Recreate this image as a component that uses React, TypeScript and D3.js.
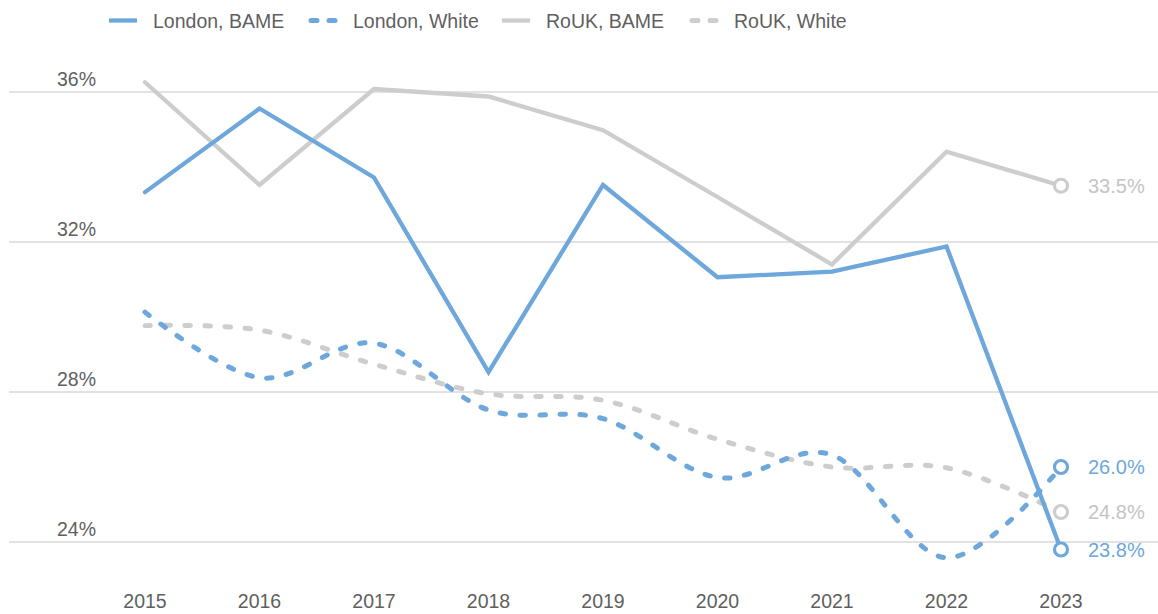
import * as d3 from "d3";

const years = ["2015", "2016", "2017", "2018", "2019", "2020", "2021", "2022", "2023"];
const londonBame = [33.33, 35.56, 33.72, 28.53, 33.52, 31.06, 31.21, 31.88, 23.8];
const londonWhite = [30.13, 28.38, 29.3, 27.52, 27.29, 25.72, 26.32, 23.58, 26.0];
const roukBame = [36.26, 33.52, 36.08, 35.88, 34.98, 33.2, 31.4, 34.41, 33.5];
const roukWhite = [29.77, 29.65, 28.74, 27.95, 27.78, 26.74, 26.0, 25.98, 24.8];
const yTicks = [24, 28, 32, 36];

const BLUE = "#6ea7db";
const GREY = "#cdcdcd";
const TEXT = "#5f5f5f";
const FONT = "'Liberation Sans', Arial, sans-serif";
const DASH = "5.5 14.5";

const width = 1158;
const height = 614;

const series = [
  { name: "London, BAME", values: londonBame, color: BLUE, dashed: false, labelColor: BLUE },
  { name: "London, White", values: londonWhite, color: BLUE, dashed: true, labelColor: BLUE },
  { name: "RoUK, BAME", values: roukBame, color: GREY, dashed: false, labelColor: "#c4c4c4" },
  { name: "RoUK, White", values: roukWhite, color: GREY, dashed: true, labelColor: "#c4c4c4" },
];

// legend item x positions (sample start)
const legendX = [109, 309, 502, 690];

export default function App() {
  const x = d3.scalePoint<string>().domain(years).range([145, 1061]);
  const y = d3.scaleLinear().domain([24, 36]).range([542, 92]);

  const straight = d3
    .line<number>()
    .x((_, i) => x(years[i]) ?? 0)
    .y((d) => y(d));
  const smooth = d3
    .line<number>()
    .x((_, i) => x(years[i]) ?? 0)
    .y((d) => y(d))
    .curve(d3.curveCardinal.tension(0));

  const last = years[years.length - 1];

  return (
    <div style={{ position: "fixed", left: 0, top: 0, width, height, background: "#fff" }}>
      <svg width={width} height={height} style={{ display: "block", fontFamily: FONT }}>
        {/* gridlines + y labels */}
        {yTicks.map((t) => (
          <g key={t}>
            <line x1={9} x2={width} y1={y(t)} y2={y(t)} stroke="#d9d9d9" strokeWidth={1.5} />
            <text x={96} y={y(t) - 6} textAnchor="end" fontSize={19.5} fill={TEXT}>
              {t}%
            </text>
          </g>
        ))}

        {/* x labels */}
        {years.map((yr) => (
          <text key={yr} x={x(yr)} y={608} textAnchor="middle" fontSize={19.5} fill={TEXT}>
            {yr}
          </text>
        ))}

        {/* lines, drawn grey first so blue sits on top */}
        {[series[3], series[2], series[1], series[0]].map((s) => (
          <path
            key={s.name}
            d={(s.dashed ? smooth(s.values) : straight(s.values)) ?? ""}
            fill="none"
            stroke={s.color}
            strokeWidth={s.dashed ? 5 : 4.3}
            strokeDasharray={s.dashed ? DASH : undefined}
            strokeLinecap="round"
            strokeLinejoin="miter"
          />
        ))}

        {/* end markers and labels */}
        {series.map((s) => {
          const v = s.values[s.values.length - 1];
          return (
            <g key={s.name + "-end"}>
              <circle cx={x(last)} cy={y(v)} r={6.5} fill="#fff" stroke={s.color} strokeWidth={3.2} />
              <text
                x={(x(last) ?? 0) + 27}
                y={y(v)}
                dominantBaseline="central"
                fontSize={20}
                fill={s.labelColor}
              >
                {v.toFixed(1)}%
              </text>
            </g>
          );
        })}

        {/* legend */}
        {series.map((s, i) => (
          <g key={s.name + "-legend"} transform={`translate(${legendX[i]},20.5)`}>
            <line
              x1={s.dashed ? 2 : 0}
              x2={28}
              y1={0}
              y2={0}
              stroke={s.color}
              strokeWidth={s.dashed ? 5 : 4.3}
              strokeDasharray={s.dashed ? "6 12" : undefined}
              strokeLinecap={s.dashed ? "round" : "butt"}
            />
            <text x={44} y={0} dominantBaseline="central" fontSize={19.5} fill={TEXT}>
              {s.name}
            </text>
          </g>
        ))}
      </svg>
    </div>
  );
}
